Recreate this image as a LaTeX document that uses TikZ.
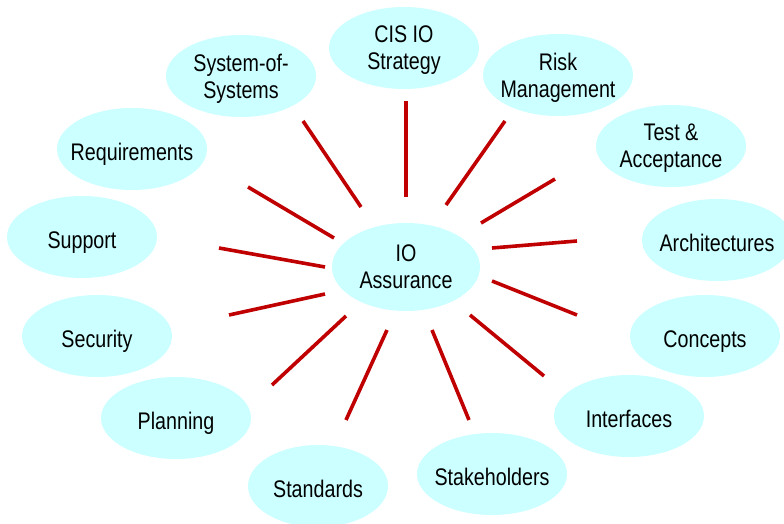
\documentclass[tikz,border=0pt]{standalone}
\usepackage{fontspec}
\setmainfont{Liberation Sans}[FakeStretch=0.82]
\usetikzlibrary{shapes.geometric}
\definecolor{bub}{HTML}{CCFFFF}
\definecolor{ray}{HTML}{C00000}
\tikzset{
  bubble/.style={ellipse, fill=bub, draw=none, inner xsep=-40pt, inner ysep=-20pt,
    minimum width=150pt, minimum height=82pt, align=center,
    text depth=0pt,
    font=\fontsize{24}{27}\selectfont},
  oneline/.style={text height=23pt},
  rayline/.style={draw=ray, line width=3.6pt}
}
\begin{document}
\begin{tikzpicture}[x=1pt,y=-1pt]
\useasboundingbox (0,0) rectangle (784,524);
\clip (0,0) rectangle (784,524);
\node[bubble] (cis) at (404,48) {CIS IO\\Strategy};
\node[bubble] (sos) at (241,76) {System-of-\\Systems};
\node[bubble] (risk) at (558,75) {Risk\\Management};
\node[bubble, oneline] (req) at (132,149) {Requirements};
\node[bubble] (test) at (671,146) {Test \&\\Acceptance};
\node[bubble, oneline] (sup) at (82,237) {Support};
\node[bubble, oneline] (arch) at (717,240) {Architectures};
\node[bubble, oneline] (sec) at (97,336) {Security};
\node[bubble, oneline] (conc) at (705,336) {Concepts};
\node[bubble, oneline] (plan) at (176,418) {Planning};
\node[bubble, oneline] (intf) at (629,416) {Interfaces};
\node[bubble, oneline, minimum width=140pt] (std) at (318,486) {Standards};
\node[bubble, oneline] (stake) at (492,474) {Stakeholders};
\node[bubble, minimum width=148pt, minimum height=88pt] (io) at (406,267) {IO\\Assurance};
% ray end points
\coordinate (a1) at (303,121); \coordinate (b1) at (361,207);
\coordinate (a2) at (248,187); \coordinate (b2) at (334,238);
\coordinate (a3) at (219,248); \coordinate (b3) at (325,267);
\coordinate (a4) at (406,101); \coordinate (b4) at (406,197);
\coordinate (a5) at (505,121); \coordinate (b5) at (446,205);
\coordinate (a6) at (555,179); \coordinate (b6) at (481,223);
\coordinate (a7) at (577,241); \coordinate (b7) at (492,248);
\coordinate (a8) at (229,315); \coordinate (b8) at (325,294);
\coordinate (a9) at (272,385); \coordinate (b9) at (346,316);
\coordinate (a10) at (346,420); \coordinate (b10) at (387,330);
\coordinate (a11) at (577,315); \coordinate (b11) at (492,281);
\coordinate (a12) at (544,376); \coordinate (b12) at (470,315);
\coordinate (a13) at (469,420); \coordinate (b13) at (432,330);
\foreach \i in {1,...,13} { \draw[rayline] (a\i) -- (b\i); }
\end{tikzpicture}
\end{document}
